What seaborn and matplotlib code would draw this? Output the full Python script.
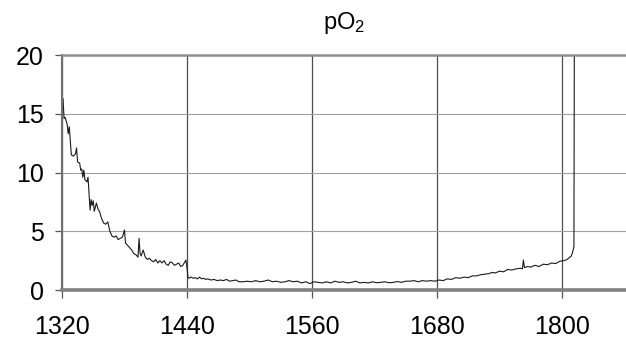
import matplotlib
matplotlib.use("Agg")
import matplotlib.pyplot as plt
import seaborn as sns
import pandas as pd

# ---- data ----
years = [
    1320, 1321, 1322, 1323, 1325, 1326, 1327, 1329, 1331, 1333, 1334, 1335, 1337, 1338, 1339,
    1340, 1341, 1342, 1344, 1345, 1346, 1347, 1348, 1349, 1350, 1351, 1353, 1355, 1356, 1358,
    1360, 1362, 1364, 1366, 1368, 1370, 1372, 1374, 1376, 1378, 1380, 1381, 1383, 1385, 1387,
    1389, 1391, 1393, 1394, 1395, 1396, 1398, 1400, 1402, 1404, 1406, 1408, 1410, 1412, 1414,
    1416, 1418, 1420, 1422, 1424, 1426, 1428, 1430, 1432, 1434, 1436, 1438, 1439, 1440, 1441,
    1442, 1444, 1446, 1448, 1450, 1452, 1454, 1456, 1458, 1460, 1463, 1466, 1469, 1472, 1475,
    1478, 1481, 1484, 1487, 1490, 1494, 1498, 1502, 1506, 1510, 1514, 1518, 1522, 1526, 1530,
    1534, 1538, 1542, 1546, 1550, 1554, 1558, 1562, 1566, 1570, 1574, 1578, 1582, 1586, 1590,
    1594, 1598, 1602, 1606, 1610, 1614, 1618, 1622, 1626, 1630, 1634, 1638, 1642, 1646, 1650,
    1654, 1658, 1662, 1666, 1670, 1674, 1678, 1682, 1686, 1690, 1694, 1698, 1702, 1706, 1710,
    1714, 1718, 1722, 1726, 1730, 1733, 1736, 1740, 1744, 1748, 1752, 1756, 1760, 1762, 1763,
    1764, 1767, 1770, 1774, 1778, 1782, 1786, 1790, 1794, 1798, 1802, 1805, 1807, 1809, 1810.5,
    1811.5, 1812,
]
po2 = [
    15.2, 16.3, 14.6, 14.7, 14.1, 13.3, 13.9, 11.5, 11.4, 11.6, 12.1, 10.9, 10.8, 10.2, 10.3,
    9.6, 10.2, 9.4, 9.2, 9.6, 8.2, 6.8, 7.7, 7.2, 7.6, 6.7, 7.4, 6.8, 6.7, 6.1,
    5.7, 5.6, 5.8, 5.0, 4.6, 4.5, 4.6, 4.3, 4.4, 4.5, 5.1, 4.0, 3.8, 3.6, 3.4,
    3.1, 3.0, 2.8, 4.4, 3.1, 2.9, 3.4, 2.8, 2.6, 2.7, 2.5, 2.4, 2.6, 2.3, 2.5,
    2.3, 2.5, 2.2, 2.1, 2.4, 2.3, 2.1, 2.2, 2.3, 2.0, 2.1, 2.4, 2.55, 1.9, 1.1,
    1.0, 1.1, 1.0, 1.05, 0.95, 1.1, 0.95, 1.0, 0.9, 0.95, 0.85, 0.9, 0.8, 0.85, 0.8,
    0.9, 0.75, 0.8, 0.85, 0.7, 0.7, 0.75, 0.7, 0.8, 0.7, 0.75, 0.85, 0.7, 0.75, 0.65,
    0.7, 0.8, 0.7, 0.75, 0.6, 0.7, 0.55, 0.7, 0.65, 0.6, 0.7, 0.6, 0.75, 0.65, 0.7,
    0.6, 0.65, 0.75, 0.6, 0.65, 0.6, 0.7, 0.62, 0.65, 0.7, 0.62, 0.65, 0.72, 0.65, 0.75,
    0.75, 0.8, 0.7, 0.8, 0.75, 0.8, 0.75, 0.85, 0.8, 0.95, 0.9, 1.05, 1.0, 1.1, 1.05,
    1.2, 1.2, 1.3, 1.35, 1.4, 1.5, 1.45, 1.6, 1.55, 1.75, 1.7, 1.8, 1.85, 1.8, 2.55,
    1.9, 2.0, 1.95, 2.1, 2.0, 2.2, 2.15, 2.3, 2.25, 2.45, 2.5, 2.6, 2.75, 2.9, 3.3,
    3.7, 25.0,
]
x_ticks = [1320, 1440, 1560, 1680, 1800]
y_ticks = [0, 5, 10, 15, 20]
title = "pO$_2$"

df = pd.DataFrame({"year": years, "pO2": po2})

sns.set_style("white")
plt.rcParams["font.family"] = ["Liberation Sans", "DejaVu Sans"]
plt.rcParams["mathtext.fontset"] = "custom"
plt.rcParams["mathtext.rm"] = "Liberation Sans"
plt.rcParams["mathtext.it"] = "Liberation Sans"
plt.rcParams["text.color"] = "black"
plt.rcParams["xtick.color"] = "#555555"
plt.rcParams["ytick.color"] = "#555555"
plt.rcParams["xtick.labelcolor"] = "black"
plt.rcParams["ytick.labelcolor"] = "black"

fig = plt.figure(figsize=(6.26, 3.38), dpi=100)
ax = fig.add_axes([0.099, 0.142, 0.901, 0.695])

sns.lineplot(data=df, x="year", y="pO2", ax=ax, color="#1a1a1a",
             linewidth=0.8, estimator=None, sort=False)

ax.set_xlim(1320, 1861.5)
ax.set_ylim(0, 20)
ax.set_xticks(x_ticks)
ax.set_yticks(y_ticks)
ax.set_xticklabels([str(t) for t in x_ticks])
ax.set_yticklabels([str(t) for t in y_ticks])
ax.set_xlabel("")
ax.set_ylabel("")

for xv in x_ticks:
    ax.axvline(xv, color="#4d4d4d", linewidth=0.9, zorder=0)
for yv in y_ticks[1:-1]:
    ax.axhline(yv, color="#a0a0a0", linewidth=0.8, zorder=0)

ax.spines["right"].set_visible(False)
ax.spines["bottom"].set_color("#808080")
ax.spines["bottom"].set_linewidth(2.6)
ax.spines["top"].set_color("#8c8c8c")
ax.spines["top"].set_linewidth(1.8)
ax.spines["left"].set_color("#707070")
ax.spines["left"].set_linewidth(1.5)

ax.tick_params(axis="x", direction="out", length=6, width=0.9,
               labelsize=18, pad=12, bottom=True)
ax.tick_params(axis="y", direction="out", length=5, width=0.9,
               labelsize=18, pad=8, left=True)

ax.set_title(title, fontsize=17, pad=19, color="black")

fig.savefig("out.png", dpi=100)
